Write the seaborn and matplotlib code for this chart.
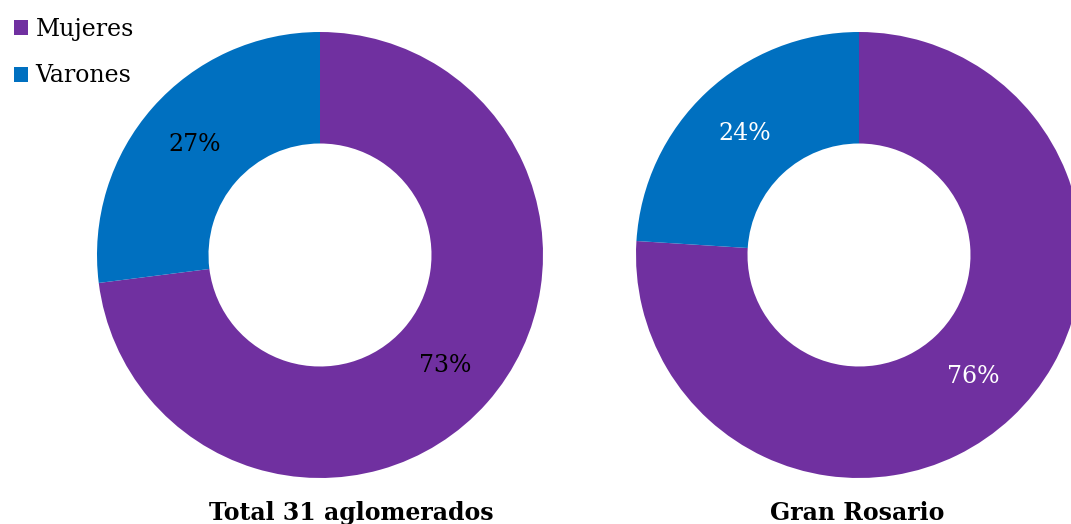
import matplotlib
matplotlib.use("Agg")
import matplotlib.pyplot as plt
from matplotlib.patches import Patch
import seaborn as sns

# data
categories = ["Mujeres", "Varones"]
total_values = [73, 27]
rosario_values = [76, 24]
titles = ["Total 31 aglomerados", "Gran Rosario"]

colors = ["#7030A0", "#0070C0"]


def main():
    sns.set_theme(style="white")
    plt.rcParams['font.family'] = ['DejaVu Serif']
    plt.rcParams['text.color'] = 'black'

    W, H = 1071, 524
    fig = plt.figure(figsize=(W / 100, H / 100), dpi=100)

    r = 223
    centers = [(320, 255), (859, 255)]
    label_colors = ["black", "white"]
    for (cx, cy), vals, tc in zip(centers, [total_values, rosario_values], label_colors):
        ax = fig.add_axes([(cx - r) / W, (H - cy - r) / H, 2 * r / W, 2 * r / H])
        wedges, texts, autotexts = ax.pie(
            vals, colors=colors, startangle=90, counterclock=False,
            radius=1, wedgeprops=dict(width=0.5, edgecolor="none"),
            autopct="%.0f%%", pctdistance=0.75,
            textprops=dict(fontsize=17, color=tc))
        ax.set_xlim(-1, 1)
        ax.set_ylim(-1, 1)
        ax.set_aspect("equal")
        ax.axis("off")

    fig.text(351 / W, 4 / H, titles[0], ha="center", va="baseline",
             fontsize=17, fontweight="bold", color="black")
    fig.text(857 / W, 4 / H, titles[1], ha="center", va="baseline",
             fontsize=17, fontweight="bold", color="black")

    handles = [Patch(facecolor=c, edgecolor="none") for c in colors]
    fig.legend(handles, categories, loc="upper left", bbox_to_anchor=(0.0, 0.993),
               frameon=False, fontsize=17, handlelength=0.6, handleheight=0.6,
               handletextpad=0.3, labelspacing=1.0, borderaxespad=0.2,
               labelcolor="black")

    fig.savefig("out.png", dpi=100)


if __name__ == "__main__":
    main()
